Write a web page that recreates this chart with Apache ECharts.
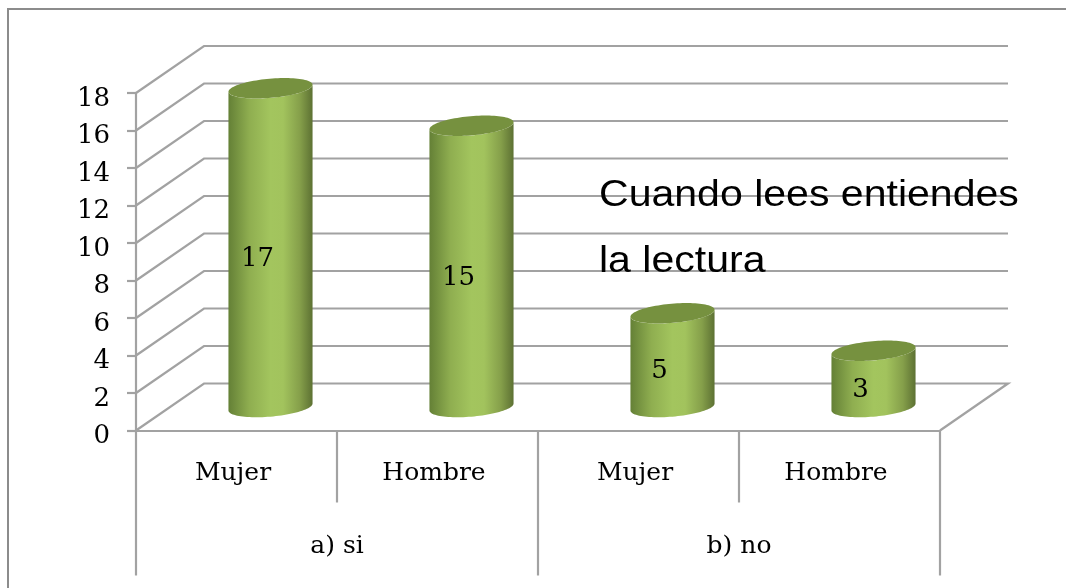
<!DOCTYPE html>
<html><head><meta charset="utf-8">
<style>html,body{margin:0;padding:0;background:#fff}#c{width:1066px;height:588px}</style>
<script src="https://cdn.jsdelivr.net/npm/echarts@6/dist/echarts.min.js"></script>
</head><body><div id="c"></div>
<script>
const categories = ['Mujer','Hombre','Mujer','Hombre'];
const groups = ['a) si','b) no'];
const values = [17,15,5,3];
const yTicks = [0,2,4,6,8,10,12,14,16,18];
const noteLines = ['Cuando lees entiendes','la lectura'];

const SERIF = '"DejaVu Serif"', LINE = '#a2a2a2', TXT = '#000';
const DX = 68, DY = -47, RX = 42.2, RY = 9.6, TILT = -5 * Math.PI / 180;

function ell(cx, cy, t) {
  const c = Math.cos(t), s = Math.sin(t);
  return [cx + RX*c*Math.cos(TILT) - RY*s*Math.sin(TILT), cy + RX*c*Math.sin(TILT) + RY*s*Math.cos(TILT)];
}
function renderWall(p, api) {
  const v = api.value(1), band = api.size([1,0])[0];
  const a = api.coord([0,v]), b = api.coord([categories.length-1,v]);
  const x0 = a[0]-band/2, x1 = b[0]+band/2, y = a[1];
  const pts = [[x0,y],[x0+DX,y+DY],[x1+DX,y+DY]];
  if (v === 0) pts.push([x1,y]);
  return {type:'polyline',shape:{points:pts},style:{stroke:LINE,lineWidth:2.2,fill:null},silent:true};
}
function renderBar(p, api) {
  const i = api.value(0), v = api.value(1);
  const top = api.coord([i,v]), base = api.coord([i,0]), mid = api.coord([i,v/2]);
  const cx = top[0]+DX/2, ty = top[1]+DY/2, by = base[1]+DY/2;
  const t0 = Math.atan(-(RY/RX)*Math.tan(TILT));
  const pts = [];
  for (let k=0;k<=48;k++) pts.push(ell(cx,by,t0+Math.PI*k/48));
  for (let k=48;k>=0;k--) pts.push(ell(cx,ty,t0+Math.PI*k/48));
  const capPts = [];
  for (let k=0;k<96;k++) capPts.push(ell(cx,ty,Math.PI*2*k/96));
  const body = new echarts.graphic.LinearGradient(0,0,1,0,[
    {offset:0,color:'#648036'},{offset:.25,color:'#8fae50'},{offset:.5,color:'#a3c55e'},
    {offset:.65,color:'#a2c35d'},{offset:.85,color:'#859f4a'},{offset:1,color:'#5d7133'}]);
  return {type:'group',children:[
    {type:'polygon',shape:{points:pts},style:{fill:body}},
    {type:'polygon',shape:{points:capPts},style:{fill:'#76913f'}},
    {type:'text',style:{text:String(v),x:mid[0]+21,y:mid[1]-12,align:'center',verticalAlign:'middle',
      font:'26px '+SERIF,fill:TXT}}
  ]};
}
function renderDivider(p, api) {
  const i = api.value(0), band = api.size([1,0])[0], a = api.coord([i,0]);
  const line = (x,len) => ({type:'line',shape:{x1:x,y1:a[1],x2:x,y2:a[1]+len},style:{stroke:LINE,lineWidth:2.2},silent:true});
  const x = a[0]+band/2, major = (i+1) % 2 === 0;
  const kids = [line(x, major?145:72)];
  if (i === 0) kids.push(line(a[0]-band/2, 145));
  return {type:'group',children:kids};
}
function renderGroup(p, api) {
  const i = api.value(0);
  const a = api.coord([i,0]), b = api.coord([i+1,0]);
  return {type:'text',style:{text:groups[i/2],x:(a[0]+b[0])/2,y:a[1]+116,align:'center',verticalAlign:'middle',
    font:'25px '+SERIF,fill:TXT}};
}
const chart = echarts.init(document.getElementById('c'),null,{renderer:'canvas'});
chart.setOption({
  animation:false,
  backgroundColor:'#fff',
  grid:{left:136,top:93,width:804,height:337.5,containLabel:false},
  xAxis:{type:'category',data:categories,
    axisLine:{lineStyle:{color:LINE,width:2.2}},axisTick:{show:false},
    axisLabel:{fontFamily:'DejaVu Serif',fontSize:25,color:TXT,margin:30,padding:[0,7,0,0]}},
  yAxis:{type:'value',min:0,max:18,interval:2,
    axisLine:{show:true,lineStyle:{color:LINE,width:2.2}},
    axisTick:{show:true,length:9,lineStyle:{color:LINE,width:2.2}},
    splitLine:{show:false},
    axisLabel:{fontFamily:'DejaVu Serif',fontSize:26,color:TXT,margin:26,verticalAlign:'top',lineHeight:12}},
  graphic:[
    {type:'polyline',shape:{points:[[8,588],[8,9],[1066,9]]},style:{stroke:'#8c8c8c',lineWidth:2,fill:null},silent:true},
    {type:'text',z:50,style:{text:noteLines[0],x:599,y:196,verticalAlign:'middle',font:'36px "Liberation Sans"',fill:'#000'},scaleX:1.14,originX:599},
    {type:'text',z:50,style:{text:noteLines[1],x:599,y:262,verticalAlign:'middle',font:'36px "Liberation Sans"',fill:'#000'},scaleX:1.14,originX:599}
  ],
  series:[
    {type:'custom',z:1,data:yTicks.map(v=>[0,v]),renderItem:renderWall,encode:{x:0,y:1}},
    {type:'custom',z:1,data:[0,1,2,3].map(i=>[i,0]),renderItem:renderDivider,encode:{x:0,y:1}},
    {type:'custom',z:3,data:values.map((v,i)=>[i,v]),renderItem:renderBar,encode:{x:0,y:1}},
    {type:'custom',z:3,data:groups.map((g,i)=>[i*2,0]),renderItem:renderGroup,encode:{x:0,y:1}}
  ]
});
</script></body></html>
